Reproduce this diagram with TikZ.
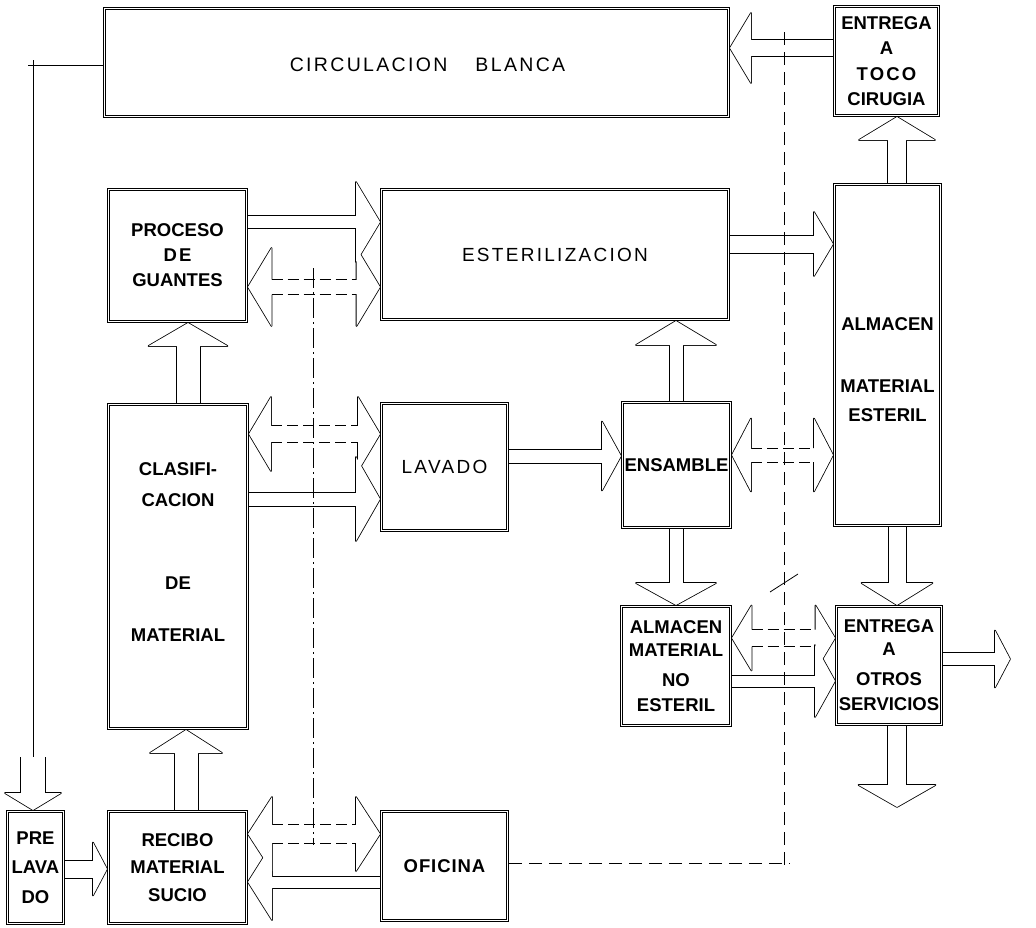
\documentclass[tikz,border=0pt]{standalone}
\usepackage{fontspec}
\setmainfont{Liberation Sans}
\newfontfamily\widefont[LetterSpace=12]{Liberation Sans}
\newfontfamily\tightfont[LetterSpace=5]{Liberation Sans}
\usepackage{tikz}
\usetikzlibrary{calc}
\pgfdeclarelayer{heads}
\pgfsetlayers{main,heads}

% hollow block arrows: shaft half width, head half width, head length (in pt)
\newcommand{\arrshaft}[4][]{%
  \draw[flow,#1] ($(#2)!#4pt!90:(#3)$) -- ($(#3)!#4pt!-90:(#2)$);
  \draw[flow,#1] ($(#2)!#4pt!-90:(#3)$) -- ($(#3)!#4pt!90:(#2)$);}
\newcommand{\arrhead}[4]{%
  \draw[flow,line width=1.6pt,line join=round] ($(#1)!#3pt!90:(#2)$) -- ($(#1)!#4pt!90:(#2)$)
    -- (#2) -- ($(#1)!#4pt!-90:(#2)$) -- ($(#1)!#3pt!-90:(#2)$);
  \begin{pgfonlayer}{heads}
    \fill[white] ($(#1)!#4pt!90:(#2)$) -- (#2) -- ($(#1)!#4pt!-90:(#2)$) -- cycle;
  \end{pgfonlayer}}
\newcommand{\blockarrow}[6][]{%
  \coordinate (bs) at (#2); \coordinate (bt) at (#3);
  \coordinate (bb) at ($(bt)!#6pt!(bs)$);
  \arrshaft[#1]{bs}{bb}{#4}
  \arrhead{bb}{bt}{#4}{#5}}
\newcommand{\twinarrow}[6][cue]{%
  \coordinate (bs) at (#2); \coordinate (bt) at (#3);
  \coordinate (bb) at ($(bt)!#6pt!(bs)$);
  \coordinate (bc) at ($(bs)!#6pt!(bt)$);
  \arrshaft[#1]{bc}{bb}{#4}
  \arrhead{bb}{bt}{#4}{#5}
  \arrhead{bc}{bs}{#4}{#5}}

\begin{document}
\begin{tikzpicture}[x=1pt,y=-1pt]
  \tikzstyle{room}=[draw,double,double distance=1.6pt,line width=0.8pt,outer sep=1.5pt,
    inner sep=0pt,align=center,font=\fontsize{18.5}{25}\selectfont\bfseries]
  \tikzstyle{caption}=[inner sep=0pt,align=center,font=\fontsize{18.5}{25}\selectfont\bfseries]
  \tikzstyle{flow}=[line width=0.8pt]
  \tikzstyle{cue}=[dash pattern=on 11pt off 5pt]
  \tikzstyle{zone}=[line width=0.7pt,dash pattern=on 20pt off 4pt on 2pt off 4pt]
  \tikzstyle{trace}=[line width=0.7pt,dash pattern=on 13pt off 7pt]
  \useasboundingbox (0,0) rectangle (1036,927);

  % rooms
  \node[room,minimum width=624pt,minimum height=108pt] (circ) at (416.5,62.5) {};
  \node[caption,font=\widefont\fontsize{19.5}{24}\selectfont] (circtxt) at (427.5,65)
    {CIRCULACION\hspace{28pt}BLANCA};
  \node[room,minimum width=104pt,minimum height=109pt,font=\fontsize{18.5}{25.3}\selectfont\bfseries]
    (toco) at (886.5,61) {ENTREGA\\A\\{\widefont TOCO}\\CIRUGIA};
  \node[room,minimum width=347pt,minimum height=130pt,font=\widefont\fontsize{19}{24}\selectfont]
    (ester) at (555,254.5) {ESTERILIZACION};
  \node[room,minimum width=106pt,minimum height=341pt] (almest) at (887.5,355) {};
  \node[caption,font=\fontsize{18.5}{29}\selectfont\bfseries] (almesttxt) at (887.5,369.5)
    {ALMACEN\\[33pt]MATERIAL\\ESTERIL};
  \node[room,minimum width=138pt,minimum height=132pt] (proceso) at (177.5,255.5)
    {PROCESO\\{\widefont DE}\\GUANTES};
  \node[room,minimum width=139pt,minimum height=324pt] (clasif) at (178,566.5) {};
  \node[caption,font=\fontsize{18.5}{31}\selectfont\bfseries] (clasiftxt) at (178,552)
    {CLASIFI-\\CACION\\[52pt]DE\\[21pt]MATERIAL};
  \node[room,minimum width=126pt,minimum height=127pt,font=\widefont\fontsize{19}{24}\selectfont]
    (lavado) at (444.5,467) {LAVADO};
  \node[room,minimum width=108pt,minimum height=125pt] (ensamble) at (676.5,465) {ENSAMBLE};
  \node[room,minimum width=109pt,minimum height=119pt,font=\fontsize{18.5}{23}\selectfont\bfseries]
    (noest) at (676,666) {ALMACEN\\MATERIAL\\[7pt]NO\\[2pt]ESTERIL};
  \node[room,minimum width=105pt,minimum height=118pt,font=\fontsize{18.5}{23}\selectfont\bfseries]
    (otros) at (889,665.5) {ENTREGA\\A\\[7pt]OTROS\\[2pt]SERVICIOS};
  \node[room,minimum width=138pt,minimum height=112pt,font=\fontsize{18.5}{27.5}\selectfont\bfseries]
    (recibo) at (177.5,867.5) {RECIBO\\MATERIAL\\SUCIO};
  \node[room,minimum width=56pt,minimum height=112pt,font=\fontsize{18.5}{29.5}\selectfont\bfseries]
    (prelav) at (35.5,867.5) {PRE\\LAVA\\DO};
  \node[room,minimum width=126pt,minimum height=109pt,font=\tightfont\fontsize{18.5}{24}\selectfont\bfseries]
    (oficina) at (444.5,866) {OFICINA};

  % zone limits
  \coordinate (wtop) at (313,268);
  \coordinate (wbot) at (313,845);
  \draw[zone] (wtop) -- (wbot);
  \coordinate (etop) at (784,32);
  \coordinate (ebot) at (784,870);
  \coordinate (ecorner) at (790,863);
  \draw[trace] (etop) -- (ebot);
  \draw[trace] (oficina.east |- ecorner) -- (ecorner);
  \coordinate (ticka) at (770,592);
  \coordinate (tickb) at (798,574);
  \draw[flow] (ticka) -- (tickb);

  % white linen return to prewash
  \coordinate (knee) at (33,65);
  \coordinate (drop) at (33,757);
  \draw[flow] (circ.west |- knee) -- ([xshift=-5pt]knee);
  \draw[flow] ([yshift=5pt]knee) -- (drop);
  \blockarrow{drop}{prelav.north -| drop}{12.5}{28}{17}

  % flows
  \blockarrow{toco.west |- 0,48}{circ.east |- 0,48}{8.5}{35}{21}
  \blockarrow{almest.north -| 897,0}{toco.south -| 897,0}{9.5}{38}{23}
  \blockarrow{ester.east |- 0,244}{almest.west |- 0,244}{9}{32}{19}
  \blockarrow{proceso.east |- 0,222}{ester.west |- 0,222}{6.5}{40}{24}
  \twinarrow{proceso.east |- 0,287}{ester.west |- 0,287}{7.5}{39}{23.5}
  \blockarrow{clasif.north -| 188,0}{proceso.south -| 188,0}{12}{39.5}{23}
  \twinarrow{clasif.east |- 0,434}{lavado.west |- 0,434}{8.5}{37}{22}
  \blockarrow{clasif.east |- 0,499}{lavado.west |- 0,499}{7}{42}{24}
  \blockarrow{lavado.east |- 0,456}{ensamble.west |- 0,456}{7}{34.5}{19}
  \blockarrow{ensamble.north -| 676,0}{ester.south -| 676,0}{7}{40}{24}
  \twinarrow{ensamble.east |- 0,455}{almest.west |- 0,455}{7}{36.5}{19}
  \blockarrow{ensamble.south -| 676,0}{noest.north -| 676,0}{7}{40}{22}
  \blockarrow{almest.south -| 897,0}{otros.north -| 897,0}{9}{35.5}{22}
  \twinarrow{noest.east |- 0,638}{otros.west |- 0,638}{8.5}{32.5}{19.5}
  \blockarrow{noest.east |- 0,681}{otros.west |- 0,681}{6}{36}{20}
  \coordinate (exit) at (1010,659);
  \blockarrow{otros.east |- exit}{exit}{6.5}{28.5}{15}
  \coordinate (sink) at (897,807);
  \blockarrow{otros.south -| sink}{sink}{9.5}{38.5}{22}
  \blockarrow{recibo.north -| 186,0}{clasif.south -| 186,0}{12}{36}{23}
  \blockarrow{prelav.east |- 0,869}{recibo.west |- 0,869}{9}{26.5}{14}
  \twinarrow{recibo.east |- 0,834}{oficina.west |- 0,834}{9.5}{37}{24}
  \blockarrow{oficina.west |- 0,882}{recibo.east |- 0,882}{6}{38}{24}
\end{tikzpicture}
\end{document}
